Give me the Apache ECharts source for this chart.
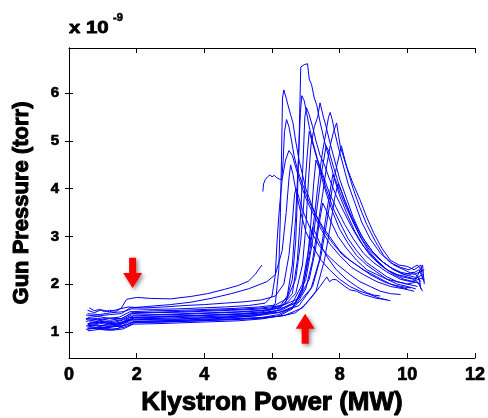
<!DOCTYPE html>
<html><head><meta charset="utf-8">
<script src="https://cdn.jsdelivr.net/npm/echarts@6/dist/echarts.min.js"></script>
<style>html,body{margin:0;padding:0;background:#fff}#c{width:488px;height:418px}</style>
</head><body><div id="c"></div>
<script>
const xTicks = [0, 2, 4, 6, 8, 10, 12];
const yTicks = [1, 2, 3, 4, 5, 6];
const xLabel = 'Klystron Power (MW)';
const yLabel = 'Gun Pressure (torr)';
const scaleNote = ['x 10', '-9'];

const t01 = [[0.55,1.10],[0.8,1.13],[1.1,1.08],[1.4,1.12],[1.7,1.24],[2.0,1.25],[2.6,1.27],[3.2,1.26],[3.8,1.29],[4.4,1.3],[5.0,1.33],[5.6,1.36],[6.1,1.42],[6.4,1.6],[6.6,2.1],[6.7,2.9],[6.75,3.8],[6.8,5.0],[6.85,6.55],[6.95,6.6],[7.05,6.62],[7.1,6.3],[7.17,6.18],[7.25,5.9],[7.32,5.76],[7.42,5.4],[7.55,5.0],[7.7,4.6],[7.85,4.2],[8.0,3.85],[8.2,3.5],[8.45,3.1],[8.7,2.8],[9.0,2.55],[9.3,2.35],[9.6,2.2],[9.9,2.1],[10.2,2.05],[10.4,2.0]];
const t02 = [[0.5,1.05],[0.8,1.08],[1.1,1.04],[1.45,1.07],[1.75,1.2],[2.2,1.22],[2.8,1.23],[3.5,1.25],[4.2,1.27],[4.9,1.3],[5.5,1.33],[5.9,1.4],[6.1,1.6],[6.2,2.3],[6.25,3.5],[6.28,4.6],[6.31,5.9],[6.35,6.07],[6.42,5.9],[6.47,5.76],[6.55,5.55],[6.62,5.38],[6.7,5.0],[6.8,4.6],[6.9,4.3],[7.0,4.0],[7.15,3.7],[7.3,3.45],[7.5,3.2],[7.7,3.0],[8.0,2.7],[8.3,2.5],[8.7,2.3],[9.1,2.15],[9.5,2.0],[9.8,1.95],[10.1,1.92]];
const t03 = [[5.73,3.94],[5.75,4.1],[5.8,4.19],[5.87,4.25],[5.94,4.29],[6.0,4.25],[6.07,4.28],[6.14,4.23],[6.22,4.2],[6.29,4.19],[6.33,4.6],[6.37,5.2],[6.43,5.45],[6.5,5.3],[6.58,5.0],[6.65,4.7],[6.75,4.4],[6.9,4.1],[7.05,3.8],[7.25,3.5],[7.5,3.15],[7.8,2.85],[8.1,2.6],[8.5,2.4],[8.9,2.2],[9.3,2.05],[9.7,1.95],[10.0,1.9]];
const t04 = [[0.55,1.15],[0.9,1.18],[1.2,1.14],[1.5,1.17],[1.8,1.3],[2.4,1.31],[3.0,1.33],[3.7,1.34],[4.4,1.36],[5.1,1.38],[5.7,1.42],[6.2,1.5],[6.45,1.75],[6.6,2.4],[6.7,3.4],[6.78,4.6],[6.84,5.6],[6.88,5.95],[6.95,5.85],[7.02,5.6],[7.1,5.3],[7.2,5.0],[7.35,4.6],[7.5,4.3],[7.7,3.9],[7.9,3.6],[8.15,3.25],[8.4,2.95],[8.7,2.65],[9.0,2.45],[9.4,2.25],[9.8,2.1],[10.1,2.05],[10.35,2.1],[10.4,1.9]];
const t05 = [[0.6,1.2],[0.9,1.22],[1.3,1.19],[1.6,1.25],[1.9,1.33],[2.5,1.35],[3.2,1.36],[3.9,1.38],[4.6,1.4],[5.3,1.42],[5.9,1.46],[6.3,1.55],[6.6,1.8],[6.75,2.5],[6.85,3.5],[6.92,4.6],[6.97,5.5],[7.02,5.7],[7.1,5.55],[7.2,5.3],[7.3,5.0],[7.42,4.7],[7.55,4.5],[7.7,4.2],[7.9,3.85],[8.1,3.55],[8.35,3.2],[8.6,2.9],[8.9,2.6],[9.2,2.4],[9.5,2.25],[9.85,2.15],[10.2,2.1],[10.45,2.2]];
const t06 = [[0.5,1.26],[0.85,1.28],[1.2,1.24],[1.55,1.28],[1.85,1.38],[2.5,1.4],[3.3,1.41],[4.0,1.43],[4.8,1.45],[5.5,1.47],[6.0,1.5],[6.4,1.58],[6.7,1.8],[6.9,2.4],[7.0,3.2],[7.08,4.2],[7.15,4.9],[7.25,5.3],[7.35,5.5],[7.42,5.8],[7.47,5.83],[7.52,5.5],[7.6,5.3],[7.7,5.0],[7.85,4.6],[8.0,4.2],[8.2,3.8],[8.4,3.4],[8.65,3.0],[8.95,2.7],[9.3,2.45],[9.6,2.3],[9.9,2.2],[10.2,2.15],[10.5,2.1]];
const t07 = [[0.55,1.08],[0.9,1.06],[1.25,1.1],[1.6,1.12],[1.9,1.2],[2.6,1.21],[3.4,1.22],[4.2,1.24],[5.0,1.27],[5.7,1.3],[6.2,1.36],[6.6,1.5],[6.9,1.9],[7.1,2.6],[7.25,3.4],[7.38,4.2],[7.5,4.8],[7.6,5.2],[7.67,5.5],[7.72,5.6],[7.78,5.45],[7.85,5.2],[7.95,4.9],[8.1,4.5],[8.25,4.1],[8.45,3.7],[8.65,3.3],[8.9,2.95],[9.2,2.65],[9.5,2.45],[9.8,2.35],[10.05,2.3],[10.3,2.4],[10.45,2.25]];
const t08 = [[0.5,1.12],[0.8,1.15],[1.15,1.11],[1.5,1.14],[1.8,1.25],[2.5,1.26],[3.3,1.27],[4.1,1.29],[4.9,1.31],[5.6,1.34],[6.2,1.4],[6.7,1.55],[7.0,1.9],[7.2,2.5],[7.35,3.2],[7.5,3.9],[7.62,4.5],[7.72,4.9],[7.82,5.2],[7.91,5.38],[7.97,5.1],[8.02,4.88],[8.1,4.7],[8.2,4.47],[8.4,4.1],[8.6,3.77],[8.8,3.4],[9.0,3.08],[9.25,2.75],[9.5,2.5],[9.75,2.4],[10.0,2.37],[10.2,2.3],[10.4,2.4],[10.45,2.1]];
const t09 = [[0.55,1.3],[0.85,1.32],[1.2,1.28],[1.5,1.31],[1.8,1.42],[2.5,1.44],[3.3,1.45],[4.1,1.47],[4.9,1.49],[5.6,1.52],[6.1,1.56],[6.45,1.7],[6.7,2.1],[6.85,2.9],[6.95,3.8],[7.03,4.6],[7.1,5.2],[7.18,5.0],[7.3,4.7],[7.45,4.35],[7.6,4.0],[7.8,3.6],[8.0,3.3],[8.25,2.95],[8.5,2.7],[8.8,2.45],[9.1,2.3],[9.4,2.15],[9.7,2.05],[10.0,2.0],[10.3,1.95]];
const t10 = [[0.6,1.18],[0.95,1.2],[1.3,1.17],[1.65,1.22],[1.95,1.3],[2.7,1.31],[3.5,1.33],[4.3,1.35],[5.1,1.37],[5.8,1.4],[6.3,1.46],[6.7,1.62],[7.0,2.1],[7.2,2.9],[7.35,3.7],[7.48,4.4],[7.6,4.9],[7.7,4.75],[7.82,4.45],[7.95,4.15],[8.1,3.85],[8.3,3.5],[8.5,3.2],[8.75,2.9],[9.0,2.65],[9.3,2.45],[9.6,2.3],[9.9,2.2],[10.2,2.25],[10.4,2.05]];
const t11 = [[0.5,1.22],[0.8,1.25],[1.2,1.21],[1.55,1.25],[1.85,1.35],[2.6,1.36],[3.4,1.38],[4.2,1.4],[5.0,1.42],[5.7,1.45],[6.3,1.5],[6.8,1.62],[7.2,1.95],[7.45,2.6],[7.62,3.3],[7.78,4.0],[7.92,4.5],[8.05,4.9],[8.12,4.7],[8.25,4.35],[8.4,4.0],[8.6,3.6],[8.8,3.25],[9.05,2.9],[9.3,2.6],[9.6,2.4],[9.9,2.3],[10.2,2.2],[10.5,2.3]];
const t12 = [[0.55,1.02],[0.9,1.05],[1.25,1.03],[1.6,1.06],[1.9,1.16],[2.6,1.17],[3.4,1.19],[4.2,1.21],[5.0,1.23],[5.7,1.27],[6.2,1.33],[6.6,1.48],[6.9,1.85],[7.05,2.5],[7.15,3.3],[7.23,4.1],[7.3,4.6],[7.38,4.45],[7.5,4.15],[7.65,3.8],[7.8,3.5],[8.0,3.15],[8.25,2.85],[8.5,2.6],[8.8,2.4],[9.1,2.25],[9.4,2.1],[9.7,2.0],[10.0,1.95],[10.25,1.9]];
const t13 = [[0.6,1.14],[0.9,1.12],[1.25,1.15],[1.6,1.17],[1.9,1.27],[2.6,1.28],[3.4,1.3],[4.2,1.32],[5.0,1.34],[5.7,1.37],[6.3,1.42],[6.8,1.55],[7.15,1.9],[7.4,2.5],[7.55,3.2],[7.68,3.8],[7.8,4.3],[7.9,4.15],[8.02,3.9],[8.2,3.6],[8.4,3.3],[8.65,2.95],[8.9,2.7],[9.2,2.5],[9.5,2.35],[9.8,2.25],[10.1,2.2],[10.35,2.3],[10.5,2.05]];
const t14 = [[0.55,1.45],[0.75,1.4],[0.95,1.46],[1.2,1.42],[1.5,1.48],[1.75,1.52],[2.2,1.5],[2.8,1.52],[3.4,1.55],[4.0,1.57],[4.6,1.6],[5.2,1.63],[5.7,1.67],[6.1,1.75],[6.35,2.0],[6.5,2.6],[6.6,3.3],[6.67,3.9],[6.72,4.0],[6.8,3.8],[6.9,3.55],[7.05,3.3],[7.2,3.05],[7.4,2.8],[7.65,2.6],[7.95,2.4],[8.3,2.2],[8.6,2.05],[8.9,1.95],[9.2,1.85],[9.5,1.8],[9.8,1.78]];
const t15 = [[0.5,1.28],[0.85,1.25],[1.2,1.29],[1.55,1.27],[1.85,1.4],[2.6,1.41],[3.4,1.43],[4.2,1.45],[5.0,1.47],[5.7,1.5],[6.3,1.55],[6.8,1.7],[7.1,2.1],[7.28,2.7],[7.4,3.3],[7.5,3.7],[7.6,3.55],[7.75,3.3],[7.95,3.0],[8.2,2.75],[8.5,2.5],[8.8,2.3],[9.1,2.2],[9.4,2.1],[9.7,2.05],[10.0,2.0],[10.3,2.05],[10.45,1.85]];
const t16 = [[0.55,1.06],[0.9,1.09],[1.3,1.05],[1.65,1.1],[1.95,1.19],[2.7,1.2],[3.5,1.22],[4.3,1.24],[5.1,1.26],[5.8,1.29],[6.4,1.35],[6.9,1.5],[7.3,1.85],[7.55,2.5],[7.72,3.2],[7.85,3.8],[7.95,4.1],[8.05,3.95],[8.2,3.65],[8.4,3.3],[8.6,3.0],[8.85,2.7],[9.1,2.5],[9.4,2.3],[9.7,2.2],[10.0,2.15],[10.25,2.1],[10.45,2.4],[10.5,2.0]];
const t17 = [[0.6,1.1],[0.95,1.08],[1.3,1.12],[1.65,1.13],[1.95,1.22],[2.7,1.23],[3.5,1.24],[4.3,1.26],[5.1,1.28],[5.8,1.3],[6.3,1.33],[6.7,1.4],[6.98,1.57],[7.2,1.75],[7.42,1.95],[7.55,2.08],[7.62,2.15],[7.7,2.05],[7.8,2.1],[7.9,2.09],[8.1,1.98],[8.3,1.88],[8.5,1.85],[8.7,1.78],[8.9,1.74],[9.1,1.7],[9.3,1.68],[9.5,1.65]];
const t18 = [[0.6,1.5],[0.75,1.44],[0.9,1.47],[1.05,1.42],[1.2,1.45],[1.4,1.43],[1.55,1.5],[1.7,1.68],[2.0,1.72],[2.4,1.7],[3.0,1.69],[3.6,1.74],[4.1,1.8],[4.6,1.89],[5.0,1.97],[5.3,2.06],[5.5,2.2],[5.7,2.4]];
const t19 = [[0.5,1.35],[0.85,1.33],[1.2,1.36],[1.55,1.38],[1.8,1.5],[2.3,1.53],[3.0,1.57],[3.6,1.62],[4.2,1.7],[4.8,1.8],[5.3,1.9],[5.85,2.05],[6.1,2.2],[6.3,2.7],[6.42,3.5],[6.5,4.2],[6.55,4.5],[6.62,4.3],[6.72,3.9],[6.85,3.5],[7.0,3.1],[7.2,2.8],[7.45,2.5],[7.7,2.3],[8.0,2.1],[8.3,1.95],[8.6,1.85],[8.9,1.78],[9.2,1.7],[9.4,1.67]];
const t20 = [[0.55,1.17],[0.9,1.2],[1.3,1.16],[1.6,1.2],[1.9,1.3],[2.6,1.31],[3.4,1.33],[4.2,1.35],[5.0,1.37],[5.7,1.4],[6.2,1.45],[6.6,1.6],[6.9,2.0],[7.05,2.6],[7.15,3.0],[7.2,3.2],[7.3,3.05],[7.45,2.8],[7.65,2.55],[7.9,2.3],[8.2,2.1],[8.5,1.95],[8.8,1.82],[9.0,1.77],[9.2,1.75]];
const t21 = [[0.55,1.38],[0.9,1.36],[1.25,1.4],[1.6,1.42],[1.85,1.48],[2.5,1.47],[3.2,1.48],[3.9,1.5],[4.6,1.52],[5.3,1.55],[5.8,1.6],[6.0,1.75],[6.1,2.2],[6.15,2.9],[6.22,3.6],[6.3,4.2],[6.4,4.6],[6.5,4.8],[6.6,4.7],[6.7,4.45],[6.85,4.1],[7.0,3.8],[7.2,3.5],[7.45,3.15],[7.7,2.85],[8.0,2.6],[8.35,2.35],[8.7,2.2],[9.1,2.05],[9.5,1.95],[9.9,1.9],[10.2,1.85]];

const traces = [t01,t02,t03,t04,t05,t06,t07,t08,t09,t10,t11,t12,t13,t14,t15,t16,t17,t18,t19,t20,t21];

// arrows: x position, tail y, tip y
const arrowX = [1.88, 6.98];
const arrowTail = [2.55, 0.75];
const arrowTip = [1.92, 1.38];

const chart = echarts.init(document.getElementById('c'), null, {renderer: 'canvas'});
const FONT = '"Liberation Sans", Arial, sans-serif';

const series = traces.map(d => ({
  type: 'line', data: d, symbol: 'none', showSymbol: false, silent: true,
  lineStyle: {color: '#0000ff', width: 1}, animation: false, z: 2
}));

series.push({
  type: 'custom', silent: true, animation: false, z: 5,
  data: arrowX.map((x, i) => [x, arrowTail[i], arrowTip[i]]),
  renderItem: function (params, api) {
    const tail = api.coord([api.value(0), api.value(1)]);
    const tip = api.coord([api.value(0), api.value(2)]);
    const dir = tip[1] > tail[1] ? 1 : -1;
    const hl = 15, hw = 9.5, sw = 3.5;
    const cx = tail[0];
    const by = tip[1] - dir * hl;
    return {
      type: 'polygon',
      shape: {points: [[cx - sw, tail[1]], [cx - sw, by], [cx - hw, by], [cx, tip[1]], [cx + hw, by], [cx + sw, by], [cx + sw, tail[1]]]},
      style: {fill: '#ff0000', shadowBlur: 4, shadowColor: 'rgba(0,0,0,0.45)', shadowOffsetX: 2, shadowOffsetY: 2}
    };
  }
});

const axisLineStyle = {show: true, lineStyle: {color: '#000', width: 1}};
const heavy = {textBorderColor: '#000', color: '#000', fontFamily: FONT, fontWeight: 'bold'};
chart.setOption({
  animation: false,
  backgroundColor: '#fff',
  grid: {left: 69, right: 13, top: 48, bottom: 60, containLabel: false, outerBoundsMode: 'none'},
  xAxis: [{
    type: 'value', min: xTicks[0], max: xTicks[xTicks.length - 1], interval: 2,
    axisLine: axisLineStyle, splitLine: {show: false},
    axisTick: {inside: true, length: 5, lineStyle: {color: '#000'}},
    axisLabel: Object.assign({fontSize: 18, margin: 8, textBorderWidth: 0.7}, heavy),
    name: xLabel, nameLocation: 'middle', nameGap: 31,
    nameTextStyle: Object.assign({fontSize: 26, textBorderWidth: 1}, heavy)
  }, {
    type: 'value', position: 'top', min: xTicks[0], max: xTicks[xTicks.length - 1], interval: 2,
    axisLine: axisLineStyle, splitLine: {show: false},
    axisTick: {inside: true, length: 5, lineStyle: {color: '#000'}},
    axisLabel: {show: false}
  }],
  yAxis: [{
    type: 'value', min: 0.45, max: 6.95,
    axisLine: axisLineStyle, splitLine: {show: false},
    axisTick: {inside: true, length: 4, customValues: yTicks, lineStyle: {color: '#000'}},
    axisLabel: Object.assign({customValues: yTicks, fontSize: 15, margin: 10, textBorderWidth: 0.7}, heavy),
    name: yLabel, nameLocation: 'middle', nameGap: 36, nameRotate: 90,
    nameTextStyle: Object.assign({fontSize: 22, textBorderWidth: 1}, heavy)
  }, {
    type: 'value', position: 'right', min: 0.45, max: 6.95,
    axisLine: axisLineStyle, splitLine: {show: false},
    axisTick: {inside: true, length: 4, customValues: yTicks, lineStyle: {color: '#000'}},
    axisLabel: {show: false}
  }],
  graphic: [
    {type: 'text', x: 69, y: 20, scaleX: 1.2, style: {text: scaleNote[0], font: 'bold 17px ' + FONT, fill: '#000', stroke: '#000', lineWidth: 0.8}},
    {type: 'text', x: 113, y: 12, style: {text: scaleNote[1], font: 'bold 11px ' + FONT, fill: '#000', stroke: '#000', lineWidth: 0.6}}
  ],
  series: series
});
</script>
</body></html>
